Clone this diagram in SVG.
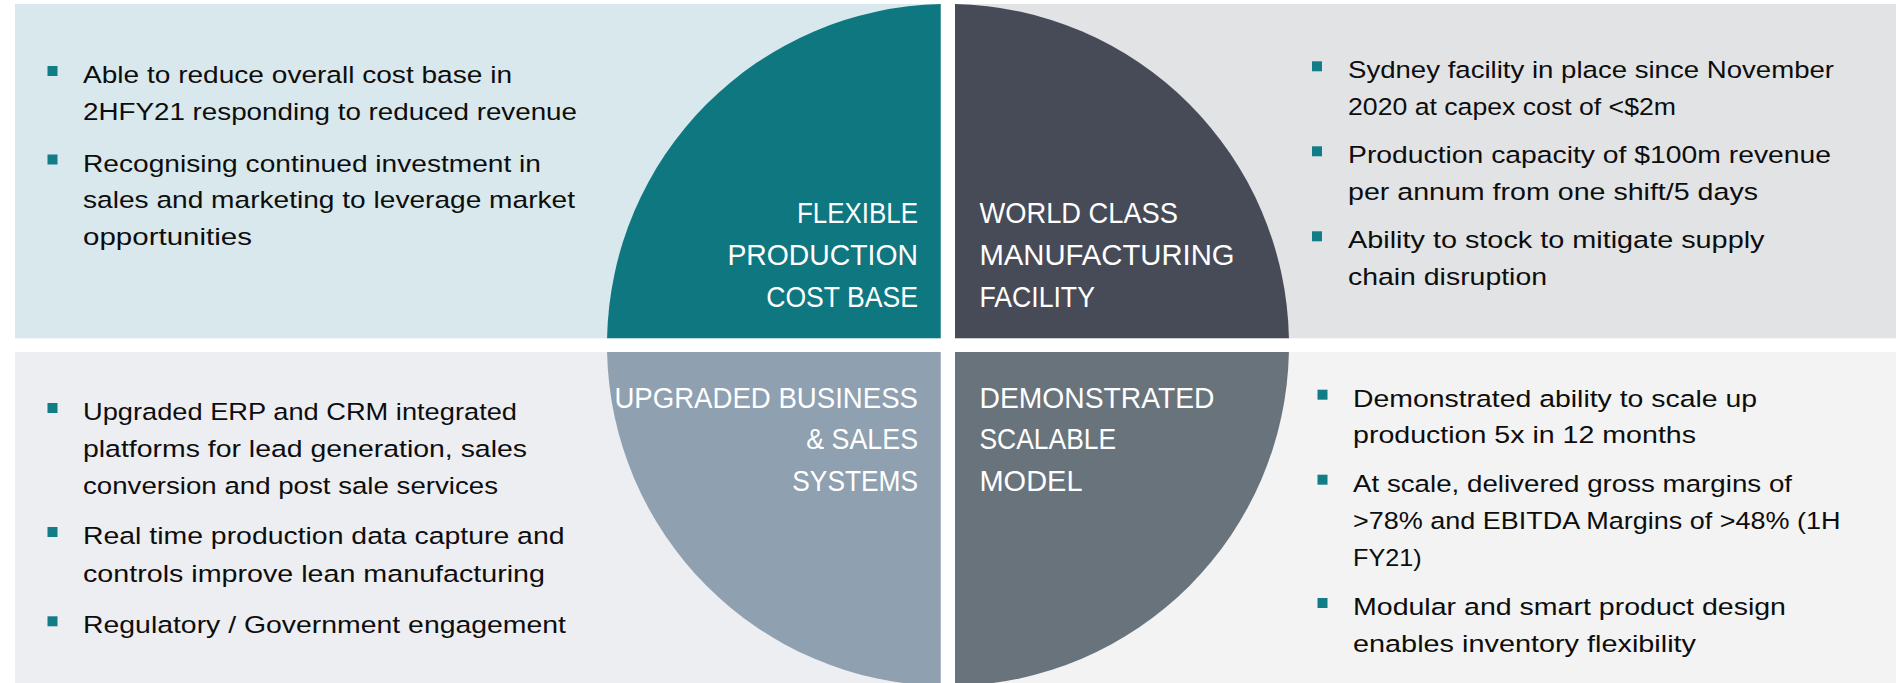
<svg xmlns="http://www.w3.org/2000/svg" width="1896" height="683" viewBox="0 0 1896 683">
  <style>
    .body { font-family: "Liberation Sans", Arial, sans-serif; font-size: 24.5px; fill: #0d0d0d; }
    .label { font-family: "Liberation Sans", Arial, sans-serif; font-size: 29.5px; fill: #ffffff; }
    .bullet { fill: #127d86; }
  </style>
  <rect width="1896" height="683" fill="#ffffff"/>

  <!-- Background panels -->
  <rect x="15" y="4" width="925.7" height="334.3" fill="#d9e8ec"/>
  <rect x="955" y="4" width="941" height="334.3" fill="#e2e3e5"/>
  <rect x="15" y="352" width="925.7" height="331" fill="#edeef2"/>
  <rect x="955" y="352" width="941" height="331" fill="#f3f3f3"/>

  <!-- Quadrant: flexible production cost base -->
  <g id="flexible-production">
    <path d="M940.7,338.3 L607.07,338.3 A341,341 0 0 1 940.7,4.08 Z" fill="#0e7780"/>
    <text class="label" text-anchor="end" x="918" y="222.7" textLength="121" lengthAdjust="spacingAndGlyphs">FLEXIBLE</text>
    <text class="label" text-anchor="end" x="918" y="265" textLength="190.6" lengthAdjust="spacingAndGlyphs">PRODUCTION</text>
    <text class="label" text-anchor="end" x="918" y="306.7" textLength="151.8" lengthAdjust="spacingAndGlyphs">COST BASE</text>
  </g>

  <!-- Quadrant: world class manufacturing facility -->
  <g id="world-class-facility">
    <path d="M955,338.3 L955,4.07 A341,341 0 0 1 1288.93,338.3 Z" fill="#474b57"/>
    <text class="label" x="979.5" y="222.7" textLength="198.5" lengthAdjust="spacingAndGlyphs">WORLD CLASS</text>
    <text class="label" x="979.5" y="265" textLength="255" lengthAdjust="spacingAndGlyphs">MANUFACTURING</text>
    <text class="label" x="979.5" y="306.7" textLength="115.4" lengthAdjust="spacingAndGlyphs">FACILITY</text>
  </g>

  <!-- Quadrant: upgraded business and sales systems -->
  <g id="upgraded-systems">
    <path d="M940.7,352 L940.7,685.92 A341,341 0 0 1 607.07,352 Z" fill="#8fa0b0"/>
    <text class="label" text-anchor="end" x="918" y="407.5" textLength="303.6" lengthAdjust="spacingAndGlyphs">UPGRADED BUSINESS</text>
    <text class="label" text-anchor="end" x="918" y="449" textLength="111.7" lengthAdjust="spacingAndGlyphs">&amp; SALES</text>
    <text class="label" text-anchor="end" x="918" y="490.5" textLength="125.7" lengthAdjust="spacingAndGlyphs">SYSTEMS</text>
  </g>

  <!-- Quadrant: demonstrated scalable model -->
  <g id="scalable-model">
    <path d="M955,352 L1288.93,352 A341,341 0 0 1 955,685.93 Z" fill="#69737c"/>
    <text class="label" x="979.5" y="407.5" textLength="235" lengthAdjust="spacingAndGlyphs">DEMONSTRATED</text>
    <text class="label" x="979.5" y="449" textLength="136.6" lengthAdjust="spacingAndGlyphs">SCALABLE</text>
    <text class="label" x="979.5" y="490.5" textLength="103" lengthAdjust="spacingAndGlyphs">MODEL</text>
  </g>

  <!-- Bullet list: cost base -->
  <g id="list-cost-base">
    <rect class="bullet" x="47.5" y="66" width="10" height="10"/>
    <rect class="bullet" x="47.5" y="154.5" width="10" height="10"/>
    <text class="body" x="83" y="83" textLength="429" lengthAdjust="spacingAndGlyphs">Able to reduce overall cost base in</text>
    <text class="body" x="83" y="120" textLength="494" lengthAdjust="spacingAndGlyphs">2HFY21 responding to reduced revenue</text>
    <text class="body" x="83" y="171.5" textLength="458" lengthAdjust="spacingAndGlyphs">Recognising continued investment in</text>
    <text class="body" x="83" y="208" textLength="492" lengthAdjust="spacingAndGlyphs">sales and marketing to leverage market</text>
    <text class="body" x="83" y="245" textLength="169" lengthAdjust="spacingAndGlyphs">opportunities</text>
  </g>

  <!-- Bullet list: facility -->
  <g id="list-facility">
    <rect class="bullet" x="1312" y="61.3" width="10" height="10"/>
    <rect class="bullet" x="1312" y="146.3" width="10" height="10"/>
    <rect class="bullet" x="1312" y="231.3" width="10" height="10"/>
    <text class="body" x="1348" y="78.3" textLength="486" lengthAdjust="spacingAndGlyphs">Sydney facility in place since November</text>
    <text class="body" x="1348" y="115" textLength="328" lengthAdjust="spacingAndGlyphs">2020 at capex cost of &lt;$2m</text>
    <text class="body" x="1348" y="163.3" textLength="483" lengthAdjust="spacingAndGlyphs">Production capacity of $100m revenue</text>
    <text class="body" x="1348" y="200" textLength="410" lengthAdjust="spacingAndGlyphs">per annum from one shift/5 days</text>
    <text class="body" x="1348" y="248.3" textLength="416.5" lengthAdjust="spacingAndGlyphs">Ability to stock to mitigate supply</text>
    <text class="body" x="1348" y="285" textLength="199" lengthAdjust="spacingAndGlyphs">chain disruption</text>
  </g>

  <!-- Bullet list: systems -->
  <g id="list-systems">
    <rect class="bullet" x="47.5" y="403" width="10" height="10"/>
    <rect class="bullet" x="47.5" y="527" width="10" height="10"/>
    <rect class="bullet" x="47.5" y="616.3" width="10" height="10"/>
    <text class="body" x="83" y="420" textLength="434" lengthAdjust="spacingAndGlyphs">Upgraded ERP and CRM integrated</text>
    <text class="body" x="83" y="456.7" textLength="444" lengthAdjust="spacingAndGlyphs">platforms for lead generation, sales</text>
    <text class="body" x="83" y="494" textLength="415" lengthAdjust="spacingAndGlyphs">conversion and post sale services</text>
    <text class="body" x="83" y="544" textLength="481.5" lengthAdjust="spacingAndGlyphs">Real time production data capture and</text>
    <text class="body" x="83" y="581.7" textLength="462" lengthAdjust="spacingAndGlyphs">controls improve lean manufacturing</text>
    <text class="body" x="83" y="633.3" textLength="483" lengthAdjust="spacingAndGlyphs">Regulatory / Government engagement</text>
  </g>

  <!-- Bullet list: scalability -->
  <g id="list-scalability">
    <rect class="bullet" x="1317.5" y="389.7" width="10" height="10"/>
    <rect class="bullet" x="1317.5" y="474.7" width="10" height="10"/>
    <rect class="bullet" x="1317.5" y="598" width="10" height="10"/>
    <text class="body" x="1353" y="406.7" textLength="404" lengthAdjust="spacingAndGlyphs">Demonstrated ability to scale up</text>
    <text class="body" x="1353" y="443.3" textLength="343" lengthAdjust="spacingAndGlyphs">production 5x in 12 months</text>
    <text class="body" x="1353" y="491.7" textLength="439" lengthAdjust="spacingAndGlyphs">At scale, delivered gross margins of</text>
    <text class="body" x="1353" y="529.3" textLength="487.5" lengthAdjust="spacingAndGlyphs">&gt;78% and EBITDA Margins of &gt;48% (1H</text>
    <text class="body" x="1353" y="566" textLength="68.6" lengthAdjust="spacingAndGlyphs">FY21)</text>
    <text class="body" x="1353" y="615" textLength="433" lengthAdjust="spacingAndGlyphs">Modular and smart product design</text>
    <text class="body" x="1353" y="651.7" textLength="343" lengthAdjust="spacingAndGlyphs">enables inventory flexibility</text>
  </g>

  <g id="connectors"/>
</svg>
